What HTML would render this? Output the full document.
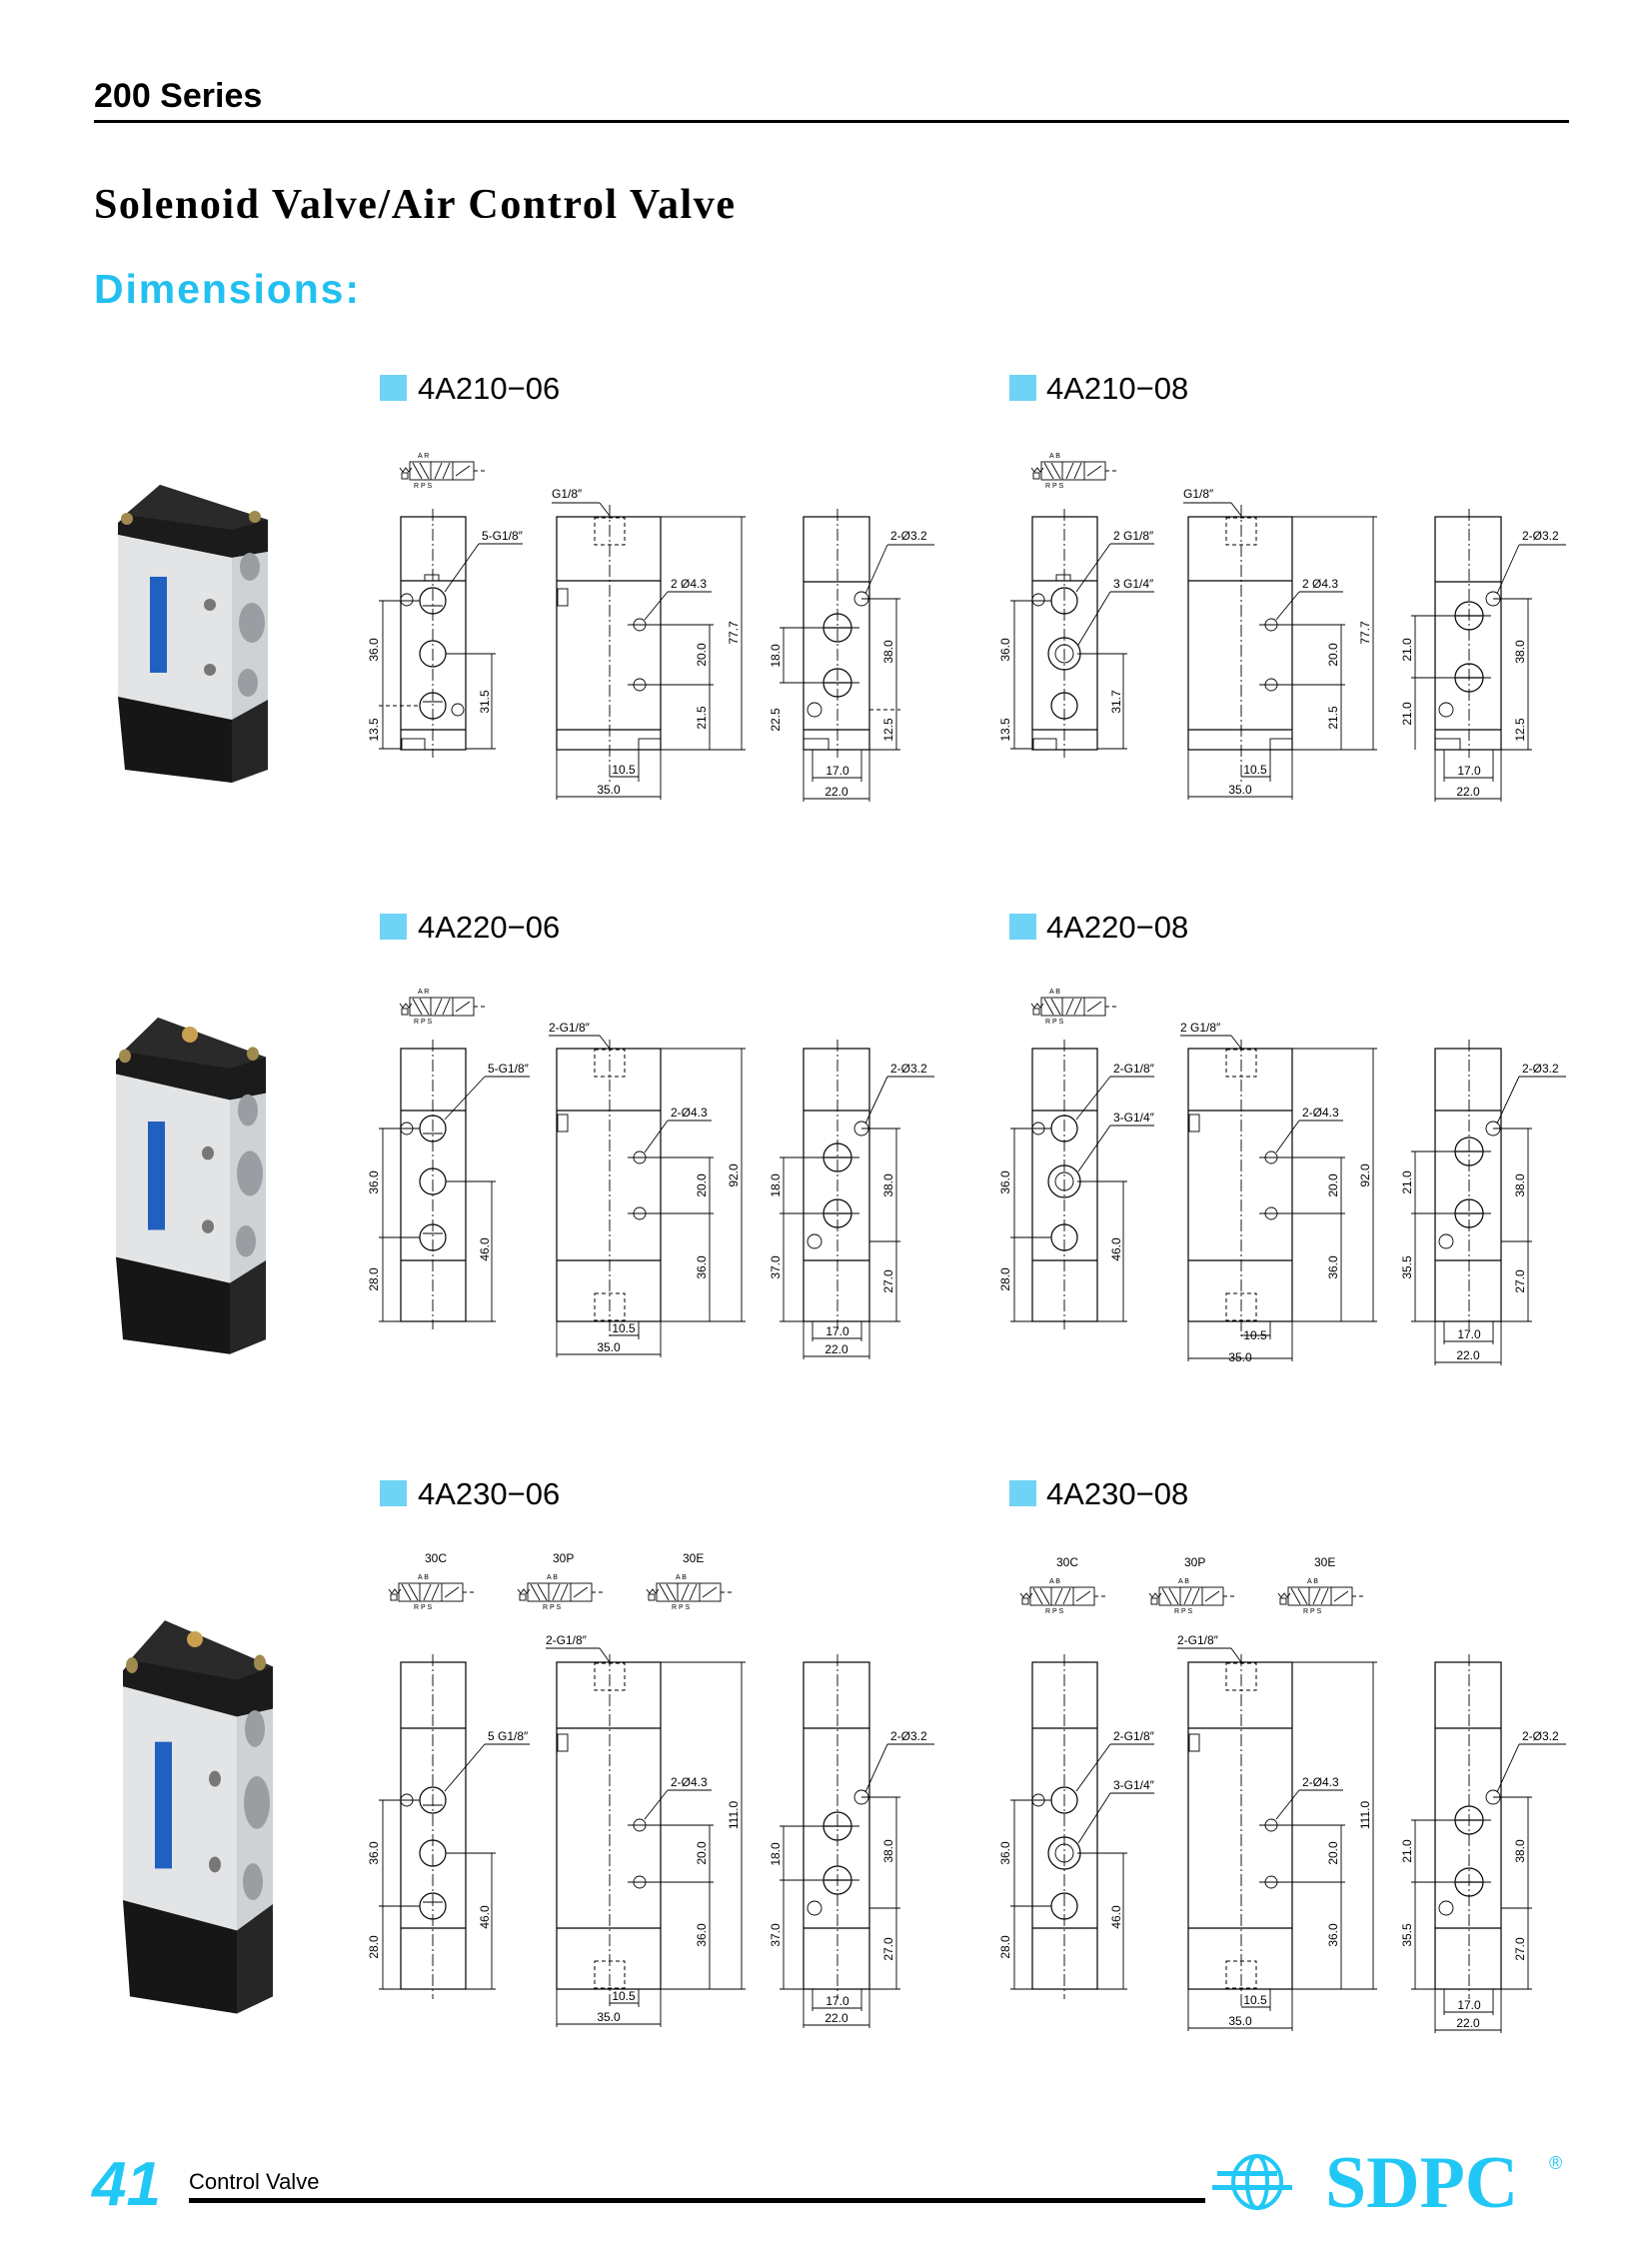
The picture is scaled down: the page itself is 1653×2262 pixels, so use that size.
<!DOCTYPE html>
<html><head><meta charset="utf-8"><style>
html,body{margin:0;padding:0;background:#fff}
svg{display:block}
.l{stroke:#000;stroke-width:1.2;fill:none}
.k{stroke:#000;stroke-width:0.9;fill:none}
.c{stroke:#000;stroke-width:0.9;fill:none;stroke-dasharray:12 3 2 3}
.d{stroke:#000;stroke-width:1;fill:none;stroke-dasharray:4 3}
.t{font-family:"Liberation Sans",sans-serif;font-size:12px;fill:#000}
.s{font-family:"Liberation Sans",sans-serif;font-size:7px;fill:#000}
</style></head><body>
<svg width="1653" height="2262" viewBox="0 0 1653 2262" xmlns="http://www.w3.org/2000/svg">
<defs>
<g id="photo">
<polygon points="118,523 160,485 268,520 268,552 232,558 118,535" fill="#1b1b1b"/>
<polygon points="160,485 268,520 232,530 125,515" fill="#2a2a2a"/>
<circle cx="127" cy="519" r="6" fill="#a08a50"/><circle cx="255" cy="517" r="6" fill="#a08a50"/>
<polygon points="118,535 232,558 232,723 118,700" fill="#e2e4e6"/>
<polygon points="232,558 268,552 268,700 232,723" fill="#cfd2d5"/>
<rect x="150" y="577" width="17" height="96" fill="#2060c0"/>
<circle cx="210" cy="605" r="6" fill="#777"/><circle cx="210" cy="670" r="6" fill="#777"/>
<ellipse cx="250" cy="567" rx="10" ry="14" fill="#9a9ea2"/>
<ellipse cx="252" cy="623" rx="13" ry="20" fill="#9a9ea2"/>
<ellipse cx="248" cy="683" rx="10" ry="14" fill="#9a9ea2"/>
<polygon points="118,697 232,720 232,783 125,770" fill="#161616"/>
<polygon points="232,720 268,700 268,770 232,783" fill="#262626"/>
</g>
<g id="sym">
<rect width="64" height="18" class="k"/><line x1="21" y1="0" x2="21" y2="18" class="k"/><line x1="43" y1="0" x2="43" y2="18" class="k"/>
<line x1="3" y1="1" x2="12" y2="17" class="k"/><line x1="10" y1="1" x2="19" y2="17" class="k"/>
<line x1="25" y1="17" x2="32" y2="1" class="k"/><line x1="33" y1="17" x2="40" y2="1" class="k"/>
<line x1="46" y1="14" x2="60" y2="4" class="k"/>
<line x1="64" y1="9" x2="78" y2="9" class="d"/>
<path d="M-10,6 l3,4 3,-4 3,4 3,-4" class="k"/><rect x="-8" y="11" width="6" height="6" class="k"/>
</g>
</defs>

<!-- header -->
<text x="94" y="107" font-family="Liberation Sans,sans-serif" font-weight="bold" font-size="34">200 Series</text>
<rect x="94" y="120" width="1476" height="3" fill="#000"/>
<text x="94" y="218" font-family="Liberation Serif,serif" font-weight="bold" font-size="42" textLength="641">Solenoid Valve/Air Control Valve</text>
<text x="94" y="303" font-family="Liberation Sans,sans-serif" font-weight="bold" font-size="41" fill="#22c0f0" textLength="265">Dimensions:</text>

<!-- section labels -->
<g font-family="Liberation Sans,sans-serif" font-size="31">
<rect x="380" y="375" width="27" height="26" fill="#6fd3f5"/><text x="418" y="399">4A210−06</text>
<rect x="1010" y="375" width="27" height="26" fill="#6fd3f5"/><text x="1047" y="399">4A210−08</text>
<rect x="380" y="914" width="27" height="26" fill="#6fd3f5"/><text x="418" y="938">4A220−06</text>
<rect x="1010" y="914" width="27" height="26" fill="#6fd3f5"/><text x="1047" y="938">4A220−08</text>
<rect x="380" y="1481" width="27" height="26" fill="#6fd3f5"/><text x="418" y="1505">4A230−06</text>
<rect x="1010" y="1481" width="27" height="26" fill="#6fd3f5"/><text x="1047" y="1505">4A230−08</text>
</g>

<!-- photos -->
<use href="#photo"/>
<use href="#photo" transform="translate(-2,470) scale(1,1.13)"/>
<circle cx="190" cy="1035" r="8" fill="#c9a050"/>
<use href="#photo" transform="translate(5,981) scale(1,1.32)"/>
<circle cx="195" cy="1640" r="8" fill="#c9a050"/>

<!-- ============ ROW 1 ============ -->
<g id="r1">
<use href="#sym" x="410" y="462"/>
<text class="s" x="418" y="458">A  R</text><text class="s" x="414" y="488">R  P  S</text>
<rect x="401" y="517" width="65" height="233" class="l"/>
<line x1="433" y1="509" x2="433" y2="758" class="c"/>
<line x1="401" y1="581" x2="466" y2="581" class="l"/><rect x="425" y="575" width="14" height="6" class="k"/>
<line x1="401" y1="730" x2="466" y2="730" class="l"/><rect x="402" y="739" width="23" height="11" class="k"/>
<circle cx="433" cy="601" r="13" class="l"/><circle cx="433" cy="654" r="13" class="l"/><circle cx="433" cy="706" r="13" class="l"/>
<line x1="423" y1="606" x2="443" y2="606" class="k"/><line x1="423" y1="702" x2="443" y2="702" class="k"/>
<circle cx="407" cy="600" r="6" class="k"/><circle cx="458" cy="710" r="6" class="k"/>
<line x1="379" y1="601" x2="420" y2="601" class="k"/><line x1="379" y1="749" x2="401" y2="749" class="k"/>
<line x1="383" y1="601" x2="383" y2="749" class="k"/><line x1="379" y1="706" x2="420" y2="706" class="d"/>
<line x1="446" y1="654" x2="496" y2="654" class="k"/><line x1="466" y1="749" x2="496" y2="749" class="k"/><line x1="492" y1="654" x2="492" y2="749" class="k"/>
<text class="t" text-anchor="middle" transform="translate(378,650) rotate(-90)">36.0</text>
<text class="t" text-anchor="middle" transform="translate(378,730) rotate(-90)">13.5</text>
<text class="t" text-anchor="middle" transform="translate(489,702) rotate(-90)">31.5</text>
<text class="t" x="482" y="540" font-size="10">5-G1/8″</text><line x1="479" y1="544" x2="523" y2="544" class="k"/><line x1="479" y1="544" x2="445" y2="592" class="k"/>
<rect x="557" y="517" width="104" height="233" class="l"/>
<line x1="557" y1="581" x2="661" y2="581" class="l"/><line x1="557" y1="730" x2="661" y2="730" class="l"/>
<rect x="595" y="518" width="30" height="27" class="d"/>
<line x1="610" y1="505" x2="610" y2="782" class="c"/>
<rect x="558" y="589" width="10" height="17" class="k"/>
<circle cx="640" cy="625" r="6" class="k"/><circle cx="640" cy="685" r="6" class="k"/>
<line x1="628" y1="625" x2="714" y2="625" class="k"/><line x1="628" y1="685" x2="714" y2="685" class="k"/>
<line x1="710" y1="625" x2="710" y2="750" class="k"/><line x1="661" y1="750" x2="746" y2="750" class="k"/><line x1="661" y1="517" x2="746" y2="517" class="k"/>
<line x1="742" y1="517" x2="742" y2="750" class="k"/>
<text class="t" text-anchor="middle" transform="translate(706,655) rotate(-90)">20.0</text>
<text class="t" text-anchor="middle" transform="translate(706,718) rotate(-90)">21.5</text>
<text class="t" text-anchor="middle" transform="translate(738,633) rotate(-90)">77.7</text>
<text class="t" x="671" y="588" font-size="10">2 Ø4.3</text><line x1="668" y1="592" x2="712" y2="592" class="k"/><line x1="668" y1="592" x2="645" y2="620" class="k"/>
<text class="t" x="552" y="498" font-size="10">G1/8″</text><line x1="552" y1="503" x2="600" y2="503" class="k"/><line x1="600" y1="503" x2="610" y2="516" class="k"/>
<rect x="639" y="739" width="22" height="11" class="k"/>
<line x1="639" y1="750" x2="639" y2="782" class="k"/><line x1="610" y1="777" x2="639" y2="777" class="k"/>
<text class="t" x="624" y="774" text-anchor="middle">10.5</text>
<line x1="557" y1="750" x2="557" y2="800" class="k"/><line x1="661" y1="750" x2="661" y2="800" class="k"/><line x1="557" y1="797" x2="661" y2="797" class="k"/>
<text class="t" x="609" y="794" text-anchor="middle">35.0</text>
<rect x="804" y="517" width="66" height="233" class="l"/>
<line x1="804" y1="582" x2="870" y2="582" class="l"/><line x1="804" y1="730" x2="870" y2="730" class="l"/>
<line x1="838" y1="509" x2="838" y2="758" class="c"/>
<circle cx="838" cy="628" r="14" class="l"/><circle cx="838" cy="683" r="14" class="l"/>
<line x1="825" y1="628" x2="851" y2="628" class="l"/><line x1="825" y1="683" x2="851" y2="683" class="l"/>
<line x1="780" y1="628" x2="860" y2="628" class="k"/><line x1="780" y1="683" x2="860" y2="683" class="k"/>
<circle cx="862" cy="599" r="7" class="k"/><circle cx="815" cy="710" r="7" class="k"/>
<rect x="804" y="739" width="25" height="11" class="k"/>
<text class="t" x="891" y="540" font-size="10">2-Ø3.2</text><line x1="888" y1="545" x2="935" y2="545" class="k"/><line x1="888" y1="545" x2="866" y2="594" class="k"/>
<line x1="784" y1="628" x2="784" y2="683" class="k"/>
<text class="t" text-anchor="middle" transform="translate(780,656) rotate(-90)">18.0</text>
<text class="t" text-anchor="middle" transform="translate(780,720) rotate(-90)">22.5</text>
<line x1="862" y1="599" x2="901" y2="599" class="k"/><line x1="870" y1="710" x2="901" y2="710" class="d"/><line x1="870" y1="750" x2="901" y2="750" class="k"/>
<line x1="897" y1="599" x2="897" y2="750" class="k"/>
<text class="t" text-anchor="middle" transform="translate(893,652) rotate(-90)">38.0</text>
<text class="t" text-anchor="middle" transform="translate(893,730) rotate(-90)">12.5</text>
<line x1="813" y1="750" x2="813" y2="782" class="k"/><line x1="862" y1="750" x2="862" y2="782" class="k"/><line x1="813" y1="778" x2="862" y2="778" class="k"/>
<text class="t" x="838" y="775" text-anchor="middle">17.0</text>
<line x1="804" y1="750" x2="804" y2="802" class="k"/><line x1="870" y1="750" x2="870" y2="802" class="k"/><line x1="804" y1="799" x2="870" y2="799" class="k"/>
<text class="t" x="837" y="796" text-anchor="middle">22.0</text>
</g>

<g transform="translate(632,0)">
<use href="#sym" x="410" y="462"/>
<text class="s" x="418" y="458">A  B</text><text class="s" x="414" y="488">R  P  S</text>
<rect x="401" y="517" width="65" height="233" class="l"/>
<line x1="433" y1="509" x2="433" y2="758" class="c"/>
<line x1="401" y1="581" x2="466" y2="581" class="l"/><rect x="425" y="575" width="14" height="6" class="k"/>
<line x1="401" y1="730" x2="466" y2="730" class="l"/><rect x="402" y="739" width="23" height="11" class="k"/>
<circle cx="433" cy="601" r="13" class="l"/><circle cx="433" cy="654" r="16" class="l"/><circle cx="433" cy="654" r="9" class="k"/><circle cx="433" cy="706" r="13" class="l"/>
<circle cx="407" cy="600" r="6" class="k"/>
<line x1="379" y1="601" x2="420" y2="601" class="k"/><line x1="379" y1="749" x2="401" y2="749" class="k"/>
<line x1="383" y1="601" x2="383" y2="749" class="k"/>
<line x1="446" y1="654" x2="496" y2="654" class="k"/><line x1="466" y1="749" x2="496" y2="749" class="k"/><line x1="492" y1="654" x2="492" y2="749" class="k"/>
<text class="t" text-anchor="middle" transform="translate(378,650) rotate(-90)">36.0</text>
<text class="t" text-anchor="middle" transform="translate(378,730) rotate(-90)">13.5</text>
<text class="t" text-anchor="middle" transform="translate(489,702) rotate(-90)">31.7</text>
<text class="t" x="482" y="540" font-size="10">2 G1/8″</text><line x1="479" y1="544" x2="523" y2="544" class="k"/><line x1="479" y1="544" x2="445" y2="592" class="k"/>
<text class="t" x="482" y="588" font-size="10">3 G1/4″</text><line x1="479" y1="592" x2="523" y2="592" class="k"/><line x1="479" y1="592" x2="447" y2="645" class="k"/>
<rect x="557" y="517" width="104" height="233" class="l"/>
<line x1="557" y1="581" x2="661" y2="581" class="l"/><line x1="557" y1="730" x2="661" y2="730" class="l"/>
<rect x="595" y="518" width="30" height="27" class="d"/>
<line x1="610" y1="505" x2="610" y2="782" class="c"/>
<circle cx="640" cy="625" r="6" class="k"/><circle cx="640" cy="685" r="6" class="k"/>
<line x1="628" y1="625" x2="714" y2="625" class="k"/><line x1="628" y1="685" x2="714" y2="685" class="k"/>
<line x1="710" y1="625" x2="710" y2="750" class="k"/><line x1="661" y1="750" x2="746" y2="750" class="k"/><line x1="661" y1="517" x2="746" y2="517" class="k"/>
<line x1="742" y1="517" x2="742" y2="750" class="k"/>
<text class="t" text-anchor="middle" transform="translate(706,655) rotate(-90)">20.0</text>
<text class="t" text-anchor="middle" transform="translate(706,718) rotate(-90)">21.5</text>
<text class="t" text-anchor="middle" transform="translate(738,633) rotate(-90)">77.7</text>
<text class="t" x="671" y="588" font-size="10">2 Ø4.3</text><line x1="668" y1="592" x2="712" y2="592" class="k"/><line x1="668" y1="592" x2="645" y2="620" class="k"/>
<text class="t" x="552" y="498" font-size="10">G1/8″</text><line x1="552" y1="503" x2="600" y2="503" class="k"/><line x1="600" y1="503" x2="610" y2="516" class="k"/>
<rect x="639" y="739" width="22" height="11" class="k"/>
<line x1="639" y1="750" x2="639" y2="782" class="k"/><line x1="610" y1="777" x2="639" y2="777" class="k"/>
<text class="t" x="624" y="774" text-anchor="middle">10.5</text>
<line x1="557" y1="750" x2="557" y2="800" class="k"/><line x1="661" y1="750" x2="661" y2="800" class="k"/><line x1="557" y1="797" x2="661" y2="797" class="k"/>
<text class="t" x="609" y="794" text-anchor="middle">35.0</text>
<rect x="804" y="517" width="66" height="233" class="l"/>
<line x1="804" y1="582" x2="870" y2="582" class="l"/><line x1="804" y1="730" x2="870" y2="730" class="l"/>
<line x1="838" y1="509" x2="838" y2="758" class="c"/>
<circle cx="838" cy="616" r="14" class="l"/><circle cx="838" cy="678" r="14" class="l"/>
<line x1="825" y1="616" x2="851" y2="616" class="l"/><line x1="825" y1="678" x2="851" y2="678" class="l"/>
<line x1="780" y1="616" x2="860" y2="616" class="k"/><line x1="780" y1="678" x2="860" y2="678" class="k"/>
<circle cx="862" cy="599" r="7" class="k"/><circle cx="815" cy="710" r="7" class="k"/>
<rect x="804" y="739" width="25" height="11" class="k"/>
<text class="t" x="891" y="540" font-size="10">2-Ø3.2</text><line x1="888" y1="545" x2="935" y2="545" class="k"/><line x1="888" y1="545" x2="866" y2="594" class="k"/>
<line x1="784" y1="616" x2="784" y2="750" class="k"/>
<text class="t" text-anchor="middle" transform="translate(780,650) rotate(-90)">21.0</text>
<text class="t" text-anchor="middle" transform="translate(780,714) rotate(-90)">21.0</text>
<line x1="862" y1="599" x2="901" y2="599" class="k"/><line x1="870" y1="750" x2="901" y2="750" class="k"/>
<line x1="897" y1="599" x2="897" y2="750" class="k"/>
<text class="t" text-anchor="middle" transform="translate(893,652) rotate(-90)">38.0</text>
<text class="t" text-anchor="middle" transform="translate(893,730) rotate(-90)">12.5</text>
<line x1="813" y1="750" x2="813" y2="782" class="k"/><line x1="862" y1="750" x2="862" y2="782" class="k"/><line x1="813" y1="778" x2="862" y2="778" class="k"/>
<text class="t" x="838" y="775" text-anchor="middle">17.0</text>
<line x1="804" y1="750" x2="804" y2="802" class="k"/><line x1="870" y1="750" x2="870" y2="802" class="k"/><line x1="804" y1="799" x2="870" y2="799" class="k"/>
<text class="t" x="837" y="796" text-anchor="middle">22.0</text>
</g>

<!-- ============ ROW 2 (06) ============ -->
<g>
<use href="#sym" x="410" y="998"/>
<text class="s" x="418" y="994">A  R</text><text class="s" x="414" y="1024">R  P  S</text>
<rect x="401" y="1049" width="65" height="273" class="l"/>
<line x1="433" y1="1040" x2="433" y2="1330" class="c"/>
<line x1="401" y1="1111" x2="466" y2="1111" class="l"/><line x1="401" y1="1261" x2="466" y2="1261" class="l"/>
<circle cx="433" cy="1129" r="13" class="l"/><circle cx="433" cy="1182" r="13" class="l"/><circle cx="433" cy="1238" r="13" class="l"/>
<line x1="423" y1="1134" x2="443" y2="1134" class="k"/><line x1="423" y1="1234" x2="443" y2="1234" class="k"/>
<circle cx="407" cy="1129" r="6" class="k"/>
<line x1="379" y1="1129" x2="420" y2="1129" class="k"/><line x1="379" y1="1238" x2="420" y2="1238" class="k"/><line x1="379" y1="1322" x2="401" y2="1322" class="k"/>
<line x1="383" y1="1129" x2="383" y2="1322" class="k"/>
<line x1="446" y1="1182" x2="496" y2="1182" class="k"/><line x1="466" y1="1322" x2="496" y2="1322" class="k"/><line x1="492" y1="1182" x2="492" y2="1322" class="k"/>
<text class="t" text-anchor="middle" transform="translate(378,1183) rotate(-90)">36.0</text>
<text class="t" text-anchor="middle" transform="translate(378,1280) rotate(-90)">28.0</text>
<text class="t" text-anchor="middle" transform="translate(489,1250) rotate(-90)">46.0</text>
<text class="t" x="488" y="1073" font-size="10">5-G1/8″</text><line x1="485" y1="1077" x2="530" y2="1077" class="k"/><line x1="485" y1="1077" x2="445" y2="1120" class="k"/>
<rect x="557" y="1049" width="104" height="273" class="l"/>
<line x1="557" y1="1111" x2="661" y2="1111" class="l"/><line x1="557" y1="1261" x2="661" y2="1261" class="l"/>
<rect x="595" y="1050" width="30" height="27" class="d"/><rect x="595" y="1294" width="30" height="27" class="d"/>
<line x1="610" y1="1040" x2="610" y2="1340" class="c"/>
<rect x="558" y="1115" width="10" height="17" class="k"/>
<circle cx="640" cy="1158" r="6" class="k"/><circle cx="640" cy="1214" r="6" class="k"/>
<line x1="628" y1="1158" x2="714" y2="1158" class="k"/><line x1="628" y1="1214" x2="714" y2="1214" class="k"/>
<line x1="710" y1="1158" x2="710" y2="1322" class="k"/><line x1="661" y1="1322" x2="746" y2="1322" class="k"/><line x1="661" y1="1049" x2="746" y2="1049" class="k"/>
<line x1="742" y1="1049" x2="742" y2="1322" class="k"/>
<text class="t" text-anchor="middle" transform="translate(706,1186) rotate(-90)">20.0</text>
<text class="t" text-anchor="middle" transform="translate(706,1268) rotate(-90)">36.0</text>
<text class="t" text-anchor="middle" transform="translate(738,1176) rotate(-90)">92.0</text>
<text class="t" x="549" y="1032" font-size="10">2-G1/8″</text><line x1="549" y1="1036" x2="600" y2="1036" class="k"/><line x1="600" y1="1036" x2="610" y2="1049" class="k"/>
<text class="t" x="671" y="1117" font-size="10">2-Ø4.3</text><line x1="668" y1="1121" x2="712" y2="1121" class="k"/><line x1="668" y1="1121" x2="645" y2="1153" class="k"/>
<line x1="639" y1="1322" x2="639" y2="1340" class="k"/><line x1="610" y1="1336" x2="639" y2="1336" class="k"/>
<text class="t" x="624" y="1333" text-anchor="middle">10.5</text>
<line x1="557" y1="1322" x2="557" y2="1358" class="k"/><line x1="661" y1="1322" x2="661" y2="1358" class="k"/><line x1="557" y1="1355" x2="661" y2="1355" class="k"/>
<text class="t" x="609" y="1352" text-anchor="middle">35.0</text>
<rect x="804" y="1049" width="66" height="273" class="l"/>
<line x1="804" y1="1111" x2="870" y2="1111" class="l"/><line x1="804" y1="1261" x2="870" y2="1261" class="l"/>
<line x1="838" y1="1040" x2="838" y2="1330" class="c"/>
<circle cx="838" cy="1158" r="14" class="l"/><circle cx="838" cy="1214" r="14" class="l"/>
<line x1="825" y1="1158" x2="851" y2="1158" class="l"/><line x1="825" y1="1214" x2="851" y2="1214" class="l"/>
<line x1="780" y1="1158" x2="860" y2="1158" class="k"/><line x1="780" y1="1214" x2="860" y2="1214" class="k"/>
<circle cx="862" cy="1129" r="7" class="k"/><circle cx="815" cy="1242" r="7" class="k"/>
<text class="t" x="891" y="1073" font-size="10">2-Ø3.2</text><line x1="888" y1="1077" x2="935" y2="1077" class="k"/><line x1="888" y1="1077" x2="866" y2="1124" class="k"/>
<line x1="784" y1="1158" x2="784" y2="1322" class="k"/><line x1="780" y1="1322" x2="804" y2="1322" class="k"/>
<text class="t" text-anchor="middle" transform="translate(780,1186) rotate(-90)">18.0</text>
<text class="t" text-anchor="middle" transform="translate(780,1268) rotate(-90)">37.0</text>
<line x1="862" y1="1129" x2="901" y2="1129" class="k"/><line x1="870" y1="1242" x2="901" y2="1242" class="k"/><line x1="870" y1="1322" x2="901" y2="1322" class="k"/>
<line x1="897" y1="1129" x2="897" y2="1322" class="k"/>
<text class="t" text-anchor="middle" transform="translate(893,1186) rotate(-90)">38.0</text>
<text class="t" text-anchor="middle" transform="translate(893,1282) rotate(-90)">27.0</text>
<line x1="813" y1="1322" x2="813" y2="1342" class="k"/><line x1="862" y1="1322" x2="862" y2="1342" class="k"/><line x1="813" y1="1339" x2="862" y2="1339" class="k"/>
<text class="t" x="838" y="1336" text-anchor="middle">17.0</text>
<line x1="804" y1="1322" x2="804" y2="1360" class="k"/><line x1="870" y1="1322" x2="870" y2="1360" class="k"/><line x1="804" y1="1357" x2="870" y2="1357" class="k"/>
<text class="t" x="837" y="1354" text-anchor="middle">22.0</text>
</g>

<g transform="translate(632,0)">
<use href="#sym" x="410" y="998"/>
<text class="s" x="418" y="994">A  B</text><text class="s" x="414" y="1024">R  P  S</text>
<rect x="401" y="1049" width="65" height="273" class="l"/>
<line x1="433" y1="1040" x2="433" y2="1330" class="c"/>
<line x1="401" y1="1111" x2="466" y2="1111" class="l"/><line x1="401" y1="1261" x2="466" y2="1261" class="l"/>
<circle cx="433" cy="1129" r="13" class="l"/><circle cx="433" cy="1182" r="16" class="l"/><circle cx="433" cy="1182" r="9" class="k"/><circle cx="433" cy="1238" r="13" class="l"/>
<circle cx="407" cy="1129" r="6" class="k"/>
<line x1="379" y1="1129" x2="420" y2="1129" class="k"/><line x1="379" y1="1238" x2="420" y2="1238" class="k"/><line x1="379" y1="1322" x2="401" y2="1322" class="k"/>
<line x1="383" y1="1129" x2="383" y2="1322" class="k"/>
<line x1="446" y1="1182" x2="496" y2="1182" class="k"/><line x1="466" y1="1322" x2="496" y2="1322" class="k"/><line x1="492" y1="1182" x2="492" y2="1322" class="k"/>
<text class="t" text-anchor="middle" transform="translate(378,1183) rotate(-90)">36.0</text>
<text class="t" text-anchor="middle" transform="translate(378,1280) rotate(-90)">28.0</text>
<text class="t" text-anchor="middle" transform="translate(489,1250) rotate(-90)">46.0</text>
<text class="t" x="482" y="1073" font-size="10">2-G1/8″</text><line x1="479" y1="1077" x2="523" y2="1077" class="k"/><line x1="479" y1="1077" x2="445" y2="1120" class="k"/>
<text class="t" x="482" y="1122" font-size="10">3-G1/4″</text><line x1="479" y1="1126" x2="523" y2="1126" class="k"/><line x1="479" y1="1126" x2="447" y2="1172" class="k"/>
<rect x="557" y="1049" width="104" height="273" class="l"/>
<line x1="557" y1="1111" x2="661" y2="1111" class="l"/><line x1="557" y1="1261" x2="661" y2="1261" class="l"/>
<rect x="595" y="1050" width="30" height="27" class="d"/><rect x="595" y="1294" width="30" height="27" class="d"/>
<line x1="610" y1="1040" x2="610" y2="1340" class="c"/>
<rect x="558" y="1115" width="10" height="17" class="k"/>
<circle cx="640" cy="1158" r="6" class="k"/><circle cx="640" cy="1214" r="6" class="k"/>
<line x1="628" y1="1158" x2="714" y2="1158" class="k"/><line x1="628" y1="1214" x2="714" y2="1214" class="k"/>
<line x1="710" y1="1158" x2="710" y2="1322" class="k"/><line x1="661" y1="1322" x2="746" y2="1322" class="k"/><line x1="661" y1="1049" x2="746" y2="1049" class="k"/>
<line x1="742" y1="1049" x2="742" y2="1322" class="k"/>
<text class="t" text-anchor="middle" transform="translate(706,1186) rotate(-90)">20.0</text>
<text class="t" text-anchor="middle" transform="translate(706,1268) rotate(-90)">36.0</text>
<text class="t" text-anchor="middle" transform="translate(738,1176) rotate(-90)">92.0</text>
<text class="t" x="549" y="1032" font-size="10">2 G1/8″</text><line x1="549" y1="1036" x2="600" y2="1036" class="k"/><line x1="600" y1="1036" x2="610" y2="1049" class="k"/>
<text class="t" x="671" y="1117" font-size="10">2-Ø4.3</text><line x1="668" y1="1121" x2="712" y2="1121" class="k"/><line x1="668" y1="1121" x2="645" y2="1153" class="k"/>
<line x1="639" y1="1322" x2="639" y2="1340" class="k"/><line x1="610" y1="1336" x2="639" y2="1336" class="k"/>
<text class="t" x="624" y="1340" text-anchor="middle">10.5</text>
<line x1="557" y1="1322" x2="557" y2="1362" class="k"/><line x1="661" y1="1322" x2="661" y2="1362" class="k"/><line x1="557" y1="1359" x2="661" y2="1359" class="k"/>
<text class="t" x="609" y="1362" text-anchor="middle">35.0</text>
<rect x="804" y="1049" width="66" height="273" class="l"/>
<line x1="804" y1="1111" x2="870" y2="1111" class="l"/><line x1="804" y1="1261" x2="870" y2="1261" class="l"/>
<line x1="838" y1="1040" x2="838" y2="1330" class="c"/>
<circle cx="838" cy="1152" r="14" class="l"/><circle cx="838" cy="1214" r="14" class="l"/>
<line x1="825" y1="1152" x2="851" y2="1152" class="l"/><line x1="825" y1="1214" x2="851" y2="1214" class="l"/>
<line x1="780" y1="1152" x2="860" y2="1152" class="k"/><line x1="780" y1="1214" x2="860" y2="1214" class="k"/>
<circle cx="862" cy="1129" r="7" class="k"/><circle cx="815" cy="1242" r="7" class="k"/>
<text class="t" x="891" y="1073" font-size="10">2-Ø3.2</text><line x1="888" y1="1077" x2="935" y2="1077" class="k"/><line x1="888" y1="1077" x2="866" y2="1124" class="k"/>
<line x1="784" y1="1152" x2="784" y2="1322" class="k"/><line x1="780" y1="1322" x2="804" y2="1322" class="k"/>
<text class="t" text-anchor="middle" transform="translate(780,1183) rotate(-90)">21.0</text>
<text class="t" text-anchor="middle" transform="translate(780,1268) rotate(-90)">35.5</text>
<line x1="862" y1="1129" x2="901" y2="1129" class="k"/><line x1="870" y1="1242" x2="901" y2="1242" class="k"/><line x1="870" y1="1322" x2="901" y2="1322" class="k"/>
<line x1="897" y1="1129" x2="897" y2="1322" class="k"/>
<text class="t" text-anchor="middle" transform="translate(893,1186) rotate(-90)">38.0</text>
<text class="t" text-anchor="middle" transform="translate(893,1282) rotate(-90)">27.0</text>
<line x1="813" y1="1322" x2="813" y2="1345" class="k"/><line x1="862" y1="1322" x2="862" y2="1345" class="k"/><line x1="813" y1="1342" x2="862" y2="1342" class="k"/>
<text class="t" x="838" y="1339" text-anchor="middle">17.0</text>
<line x1="804" y1="1322" x2="804" y2="1366" class="k"/><line x1="870" y1="1322" x2="870" y2="1366" class="k"/><line x1="804" y1="1363" x2="870" y2="1363" class="k"/>
<text class="t" x="837" y="1360" text-anchor="middle">22.0</text>
</g>

<!-- ============ ROW 3 (06) ============ -->
<g>
<text class="t" x="425" y="1563" font-size="10">30C</text>
<text class="t" x="553" y="1563" font-size="10">30P</text>
<text class="t" x="683" y="1563" font-size="10">30E</text>
<use href="#sym" x="399" y="1584"/><use href="#sym" x="528" y="1584"/><use href="#sym" x="657" y="1584"/>
<text class="s" x="418" y="1580">A  B</text><text class="s" x="414" y="1610">R  P  S</text>
<text class="s" x="547" y="1580">A  B</text><text class="s" x="543" y="1610">R  P  S</text>
<text class="s" x="676" y="1580">A  B</text><text class="s" x="672" y="1610">R  P  S</text>
<rect x="401" y="1663" width="65" height="327" class="l"/>
<line x1="433" y1="1655" x2="433" y2="2000" class="c"/>
<line x1="401" y1="1729" x2="466" y2="1729" class="l"/><line x1="401" y1="1929" x2="466" y2="1929" class="l"/>
<circle cx="433" cy="1801" r="13" class="l"/><circle cx="433" cy="1854" r="13" class="l"/><circle cx="433" cy="1907" r="13" class="l"/>
<line x1="423" y1="1806" x2="443" y2="1806" class="k"/><line x1="423" y1="1903" x2="443" y2="1903" class="k"/>
<circle cx="407" cy="1801" r="6" class="k"/>
<line x1="379" y1="1801" x2="420" y2="1801" class="k"/><line x1="379" y1="1907" x2="420" y2="1907" class="k"/><line x1="379" y1="1990" x2="401" y2="1990" class="k"/>
<line x1="383" y1="1801" x2="383" y2="1990" class="k"/>
<line x1="446" y1="1854" x2="496" y2="1854" class="k"/><line x1="466" y1="1990" x2="496" y2="1990" class="k"/><line x1="492" y1="1854" x2="492" y2="1990" class="k"/>
<text class="t" text-anchor="middle" transform="translate(378,1854) rotate(-90)">36.0</text>
<text class="t" text-anchor="middle" transform="translate(378,1948) rotate(-90)">28.0</text>
<text class="t" text-anchor="middle" transform="translate(489,1918) rotate(-90)">46.0</text>
<text class="t" x="488" y="1741" font-size="10">5 G1/8″</text><line x1="485" y1="1745" x2="530" y2="1745" class="k"/><line x1="485" y1="1745" x2="445" y2="1792" class="k"/>
<rect x="557" y="1663" width="104" height="327" class="l"/>
<line x1="557" y1="1729" x2="661" y2="1729" class="l"/><line x1="557" y1="1929" x2="661" y2="1929" class="l"/>
<rect x="595" y="1664" width="30" height="27" class="d"/><rect x="595" y="1962" width="30" height="27" class="d"/>
<line x1="610" y1="1655" x2="610" y2="2008" class="c"/>
<rect x="558" y="1735" width="10" height="17" class="k"/>
<circle cx="640" cy="1826" r="6" class="k"/><circle cx="640" cy="1883" r="6" class="k"/>
<line x1="628" y1="1826" x2="714" y2="1826" class="k"/><line x1="628" y1="1883" x2="714" y2="1883" class="k"/>
<line x1="710" y1="1826" x2="710" y2="1990" class="k"/><line x1="661" y1="1990" x2="746" y2="1990" class="k"/><line x1="661" y1="1663" x2="746" y2="1663" class="k"/>
<line x1="742" y1="1663" x2="742" y2="1990" class="k"/>
<text class="t" text-anchor="middle" transform="translate(706,1854) rotate(-90)">20.0</text>
<text class="t" text-anchor="middle" transform="translate(706,1936) rotate(-90)">36.0</text>
<text class="t" text-anchor="middle" transform="translate(738,1816) rotate(-90)">111.0</text>
<text class="t" x="546" y="1645" font-size="10">2-G1/8″</text><line x1="546" y1="1649" x2="600" y2="1649" class="k"/><line x1="600" y1="1649" x2="610" y2="1663" class="k"/>
<text class="t" x="671" y="1787" font-size="10">2-Ø4.3</text><line x1="668" y1="1791" x2="712" y2="1791" class="k"/><line x1="668" y1="1791" x2="645" y2="1820" class="k"/>
<line x1="639" y1="1990" x2="639" y2="2008" class="k"/><line x1="610" y1="2004" x2="639" y2="2004" class="k"/>
<text class="t" x="624" y="2001" text-anchor="middle">10.5</text>
<line x1="557" y1="1990" x2="557" y2="2028" class="k"/><line x1="661" y1="1990" x2="661" y2="2028" class="k"/><line x1="557" y1="2025" x2="661" y2="2025" class="k"/>
<text class="t" x="609" y="2022" text-anchor="middle">35.0</text>
<rect x="804" y="1663" width="66" height="327" class="l"/>
<line x1="804" y1="1729" x2="870" y2="1729" class="l"/><line x1="804" y1="1929" x2="870" y2="1929" class="l"/>
<line x1="838" y1="1655" x2="838" y2="2000" class="c"/>
<circle cx="838" cy="1827" r="14" class="l"/><circle cx="838" cy="1881" r="14" class="l"/>
<line x1="825" y1="1827" x2="851" y2="1827" class="l"/><line x1="825" y1="1881" x2="851" y2="1881" class="l"/>
<line x1="780" y1="1827" x2="860" y2="1827" class="k"/><line x1="780" y1="1881" x2="860" y2="1881" class="k"/>
<circle cx="862" cy="1798" r="7" class="k"/><circle cx="815" cy="1909" r="7" class="k"/>
<text class="t" x="891" y="1741" font-size="10">2-Ø3.2</text><line x1="888" y1="1745" x2="935" y2="1745" class="k"/><line x1="888" y1="1745" x2="866" y2="1793" class="k"/>
<line x1="784" y1="1827" x2="784" y2="1990" class="k"/><line x1="780" y1="1990" x2="804" y2="1990" class="k"/>
<text class="t" text-anchor="middle" transform="translate(780,1855) rotate(-90)">18.0</text>
<text class="t" text-anchor="middle" transform="translate(780,1936) rotate(-90)">37.0</text>
<line x1="862" y1="1798" x2="901" y2="1798" class="k"/><line x1="870" y1="1909" x2="901" y2="1909" class="k"/><line x1="870" y1="1990" x2="901" y2="1990" class="k"/>
<line x1="897" y1="1798" x2="897" y2="1990" class="k"/>
<text class="t" text-anchor="middle" transform="translate(893,1852) rotate(-90)">38.0</text>
<text class="t" text-anchor="middle" transform="translate(893,1950) rotate(-90)">27.0</text>
<line x1="813" y1="1990" x2="813" y2="2012" class="k"/><line x1="862" y1="1990" x2="862" y2="2012" class="k"/><line x1="813" y1="2009" x2="862" y2="2009" class="k"/>
<text class="t" x="838" y="2006" text-anchor="middle">17.0</text>
<line x1="804" y1="1990" x2="804" y2="2029" class="k"/><line x1="870" y1="1990" x2="870" y2="2029" class="k"/><line x1="804" y1="2026" x2="870" y2="2026" class="k"/>
<text class="t" x="837" y="2023" text-anchor="middle">22.0</text>
</g>

<g transform="translate(632,0)">
<text class="t" x="425" y="1567" font-size="10">30C</text>
<text class="t" x="553" y="1567" font-size="10">30P</text>
<text class="t" x="683" y="1567" font-size="10">30E</text>
<use href="#sym" x="399" y="1588"/><use href="#sym" x="528" y="1588"/><use href="#sym" x="657" y="1588"/>
<text class="s" x="418" y="1584">A  B</text><text class="s" x="414" y="1614">R  P  S</text>
<text class="s" x="547" y="1584">A  B</text><text class="s" x="543" y="1614">R  P  S</text>
<text class="s" x="676" y="1584">A  B</text><text class="s" x="672" y="1614">R  P  S</text>
<rect x="401" y="1663" width="65" height="327" class="l"/>
<line x1="433" y1="1655" x2="433" y2="2000" class="c"/>
<line x1="401" y1="1729" x2="466" y2="1729" class="l"/><line x1="401" y1="1929" x2="466" y2="1929" class="l"/>
<circle cx="433" cy="1801" r="13" class="l"/><circle cx="433" cy="1854" r="16" class="l"/><circle cx="433" cy="1854" r="9" class="k"/><circle cx="433" cy="1907" r="13" class="l"/>
<circle cx="407" cy="1801" r="6" class="k"/>
<line x1="379" y1="1801" x2="420" y2="1801" class="k"/><line x1="379" y1="1907" x2="420" y2="1907" class="k"/><line x1="379" y1="1990" x2="401" y2="1990" class="k"/>
<line x1="383" y1="1801" x2="383" y2="1990" class="k"/>
<line x1="446" y1="1854" x2="496" y2="1854" class="k"/><line x1="466" y1="1990" x2="496" y2="1990" class="k"/><line x1="492" y1="1854" x2="492" y2="1990" class="k"/>
<text class="t" text-anchor="middle" transform="translate(378,1854) rotate(-90)">36.0</text>
<text class="t" text-anchor="middle" transform="translate(378,1948) rotate(-90)">28.0</text>
<text class="t" text-anchor="middle" transform="translate(489,1918) rotate(-90)">46.0</text>
<text class="t" x="482" y="1741" font-size="10">2-G1/8″</text><line x1="479" y1="1745" x2="523" y2="1745" class="k"/><line x1="479" y1="1745" x2="445" y2="1792" class="k"/>
<text class="t" x="482" y="1790" font-size="10">3-G1/4″</text><line x1="479" y1="1794" x2="523" y2="1794" class="k"/><line x1="479" y1="1794" x2="447" y2="1844" class="k"/>
<rect x="557" y="1663" width="104" height="327" class="l"/>
<line x1="557" y1="1729" x2="661" y2="1729" class="l"/><line x1="557" y1="1929" x2="661" y2="1929" class="l"/>
<rect x="595" y="1664" width="30" height="27" class="d"/><rect x="595" y="1962" width="30" height="27" class="d"/>
<line x1="610" y1="1655" x2="610" y2="2008" class="c"/>
<rect x="558" y="1735" width="10" height="17" class="k"/>
<circle cx="640" cy="1826" r="6" class="k"/><circle cx="640" cy="1883" r="6" class="k"/>
<line x1="628" y1="1826" x2="714" y2="1826" class="k"/><line x1="628" y1="1883" x2="714" y2="1883" class="k"/>
<line x1="710" y1="1826" x2="710" y2="1990" class="k"/><line x1="661" y1="1990" x2="746" y2="1990" class="k"/><line x1="661" y1="1663" x2="746" y2="1663" class="k"/>
<line x1="742" y1="1663" x2="742" y2="1990" class="k"/>
<text class="t" text-anchor="middle" transform="translate(706,1854) rotate(-90)">20.0</text>
<text class="t" text-anchor="middle" transform="translate(706,1936) rotate(-90)">36.0</text>
<text class="t" text-anchor="middle" transform="translate(738,1816) rotate(-90)">111.0</text>
<text class="t" x="546" y="1645" font-size="10">2-G1/8″</text><line x1="546" y1="1649" x2="600" y2="1649" class="k"/><line x1="600" y1="1649" x2="610" y2="1663" class="k"/>
<text class="t" x="671" y="1787" font-size="10">2-Ø4.3</text><line x1="668" y1="1791" x2="712" y2="1791" class="k"/><line x1="668" y1="1791" x2="645" y2="1820" class="k"/>
<line x1="639" y1="1990" x2="639" y2="2012" class="k"/><line x1="610" y1="2008" x2="639" y2="2008" class="k"/>
<text class="t" x="624" y="2005" text-anchor="middle">10.5</text>
<line x1="557" y1="1990" x2="557" y2="2032" class="k"/><line x1="661" y1="1990" x2="661" y2="2032" class="k"/><line x1="557" y1="2029" x2="661" y2="2029" class="k"/>
<text class="t" x="609" y="2026" text-anchor="middle">35.0</text>
<rect x="804" y="1663" width="66" height="327" class="l"/>
<line x1="804" y1="1729" x2="870" y2="1729" class="l"/><line x1="804" y1="1929" x2="870" y2="1929" class="l"/>
<line x1="838" y1="1655" x2="838" y2="2000" class="c"/>
<circle cx="838" cy="1821" r="14" class="l"/><circle cx="838" cy="1883" r="14" class="l"/>
<line x1="825" y1="1821" x2="851" y2="1821" class="l"/><line x1="825" y1="1883" x2="851" y2="1883" class="l"/>
<line x1="780" y1="1821" x2="860" y2="1821" class="k"/><line x1="780" y1="1883" x2="860" y2="1883" class="k"/>
<circle cx="862" cy="1798" r="7" class="k"/><circle cx="815" cy="1909" r="7" class="k"/>
<text class="t" x="891" y="1741" font-size="10">2-Ø3.2</text><line x1="888" y1="1745" x2="935" y2="1745" class="k"/><line x1="888" y1="1745" x2="866" y2="1793" class="k"/>
<line x1="784" y1="1821" x2="784" y2="1990" class="k"/><line x1="780" y1="1990" x2="804" y2="1990" class="k"/>
<text class="t" text-anchor="middle" transform="translate(780,1852) rotate(-90)">21.0</text>
<text class="t" text-anchor="middle" transform="translate(780,1936) rotate(-90)">35.5</text>
<line x1="862" y1="1798" x2="901" y2="1798" class="k"/><line x1="870" y1="1909" x2="901" y2="1909" class="k"/><line x1="870" y1="1990" x2="901" y2="1990" class="k"/>
<line x1="897" y1="1798" x2="897" y2="1990" class="k"/>
<text class="t" text-anchor="middle" transform="translate(893,1852) rotate(-90)">38.0</text>
<text class="t" text-anchor="middle" transform="translate(893,1950) rotate(-90)">27.0</text>
<line x1="813" y1="1990" x2="813" y2="2016" class="k"/><line x1="862" y1="1990" x2="862" y2="2016" class="k"/><line x1="813" y1="2013" x2="862" y2="2013" class="k"/>
<text class="t" x="838" y="2010" text-anchor="middle">17.0</text>
<line x1="804" y1="1990" x2="804" y2="2034" class="k"/><line x1="870" y1="1990" x2="870" y2="2034" class="k"/><line x1="804" y1="2031" x2="870" y2="2031" class="k"/>
<text class="t" x="837" y="2028" text-anchor="middle">22.0</text>
</g>

<!-- footer -->
<text x="92" y="2206" font-family="Liberation Sans,sans-serif" font-weight="bold" font-style="italic" font-size="62" fill="#22c8f5">41</text>
<text x="189" y="2190" font-family="Liberation Sans,sans-serif" font-size="22">Control Valve</text>
<rect x="189" y="2199" width="1017" height="5" fill="#000"/>
<g fill="none" stroke="#22c8f5" stroke-width="4">
<ellipse cx="1258" cy="2183" rx="24" ry="26"/>
<ellipse cx="1258" cy="2183" rx="10" ry="26"/>
</g>
<rect x="1218" y="2172" width="60" height="5" fill="#22c8f5"/>
<rect x="1213" y="2186" width="80" height="5" fill="#22c8f5"/>
<text x="1326" y="2208" font-family="Liberation Serif,serif" font-weight="bold" font-size="74" fill="#22c8f5">SDPC</text>
<text x="1550" y="2170" font-family="Liberation Sans,sans-serif" font-size="18" fill="#22c8f5">®</text>
</svg>
</body></html>
